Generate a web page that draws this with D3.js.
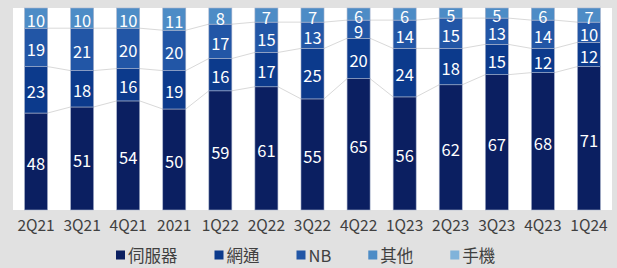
<!DOCTYPE html>
<html>
<head>
<meta charset="utf-8">
<script src="https://cdn.jsdelivr.net/npm/d3@7/dist/d3.min.js"></script>
<style>
  html, body { margin: 0; padding: 0; background: #e1e1e1; }
  svg { display: block; }
  text { font-family: "Noto Sans CJK TC", "Noto Sans", sans-serif; }
</style>
</head>
<body>
<svg id="chart" width="617" height="268"></svg>
<script>
const categories = ["2Q21","3Q21","4Q21","2021","1Q22","2Q22","3Q22","4Q22","1Q23","2Q23","3Q23","4Q23","1Q24"];
const seriesNames = ["伺服器","網通","NB","其他","手機"];
const server = [48,51,54,50,59,61,55,65,56,62,67,68,71];
const network = [23,18,16,19,16,17,25,20,24,18,15,12,12];
const nb = [19,21,20,20,17,15,13,9,14,15,13,14,10];
const other = [10,10,10,11,8,7,7,6,6,5,5,6,7];
const phone = [0,0,0,0,0,0,0,0,0,0,0,0,0];
const colors = ["#0b1f61","#0c3a8c","#2256a6","#4d8cc6","#80b3da"];

const seriesValues = [server, network, nb, other, phone];
const table = categories.map((c, i) => {
  const row = { cat: c };
  seriesNames.forEach((s, j) => row[s] = seriesValues[j][i]);
  return row;
});

const svg = d3.select("#chart");
const W = 617, H = 268;
const plot = { left: 13, right: 612, top: 8, bottom: 210 };

svg.append("rect").attr("x", 0).attr("y", 0).attr("width", W).attr("height", H).attr("fill", "#e1e1e1");
svg.append("rect").attr("x", plot.left).attr("y", plot.top)
  .attr("width", plot.right - plot.left).attr("height", plot.bottom - plot.top).attr("fill", "#ffffff");

const x = d3.scaleBand().domain(categories).range([plot.left, plot.right]).paddingInner(0.5).paddingOuter(0.25);
const y = d3.scaleLinear().domain([0, 100]).range([plot.bottom, plot.top]);

const stack = d3.stack().keys(seriesNames);
const stacked = stack(table);

// connector (series) lines
const conn = svg.append("g");
stacked.slice(0, 3).forEach(layer => {
  for (let i = 0; i < categories.length - 1; i++) {
    const a = layer[i], b = layer[i + 1];
    conn.append("line")
      .attr("x1", x(categories[i]) + x.bandwidth())
      .attr("x2", x(categories[i + 1]))
      .attr("y1", y(a[1])).attr("y2", y(b[1]))
      .attr("stroke", "#d9d9d9").attr("stroke-width", 1);
  }
});

const layers = svg.append("g").selectAll("g").data(stacked).join("g")
  .attr("fill", (d, i) => colors[i]);

layers.selectAll("rect").data(d => d.filter(p => p[1] - p[0] > 0)).join("rect")
  .attr("x", d => x(d.data.cat))
  .attr("width", x.bandwidth())
  .attr("y", d => y(d[1]))
  .attr("height", d => y(d[0]) - y(d[1]))
  .attr("stroke", "#aab4cc").attr("stroke-width", 0.6);

layers.selectAll("text").data(d => d.filter(p => p[1] - p[0] > 0)).join("text")
  .attr("x", d => x(d.data.cat) + x.bandwidth() / 2)
  .attr("y", d => (y(d[0]) + y(d[1])) / 2 + 1.5)
  .attr("text-anchor", "middle")
  .attr("dominant-baseline", "central")
  .attr("fill", "#ffffff")
  .attr("font-size", 16.5)
  .text(d => d[1] - d[0]);

// x axis
const xAxis = d3.axisBottom(x).tickSize(0).tickPadding(0);
const gx = svg.append("g").attr("transform", `translate(0,${plot.bottom})`).call(xAxis);
gx.select(".domain").remove();
gx.selectAll("text")
  .attr("dy", null).attr("y", 21)
  .attr("font-family", "Noto Sans CJK TC, Noto Sans, sans-serif")
  .attr("font-size", 15.5).attr("fill", "#404040");

// legend
const legend = svg.append("g").attr("transform", "translate(0,255)");
let lx = 116;
seriesNames.forEach((s, i) => {
  const g = legend.append("g").attr("transform", `translate(${lx},0)`);
  g.append("rect").attr("x", 0).attr("y", -4.5).attr("width", 9).attr("height", 9).attr("fill", colors[i]);
  const t = g.append("text").attr("x", 12).attr("y", 0)
    .attr("dominant-baseline", "central")
    .attr("font-size", 16.5).attr("fill", "#404040").text(s);
  const w = t.node().getComputedTextLength();
  lx += 12 + w + 37;
});
</script>
</body>
</html>
